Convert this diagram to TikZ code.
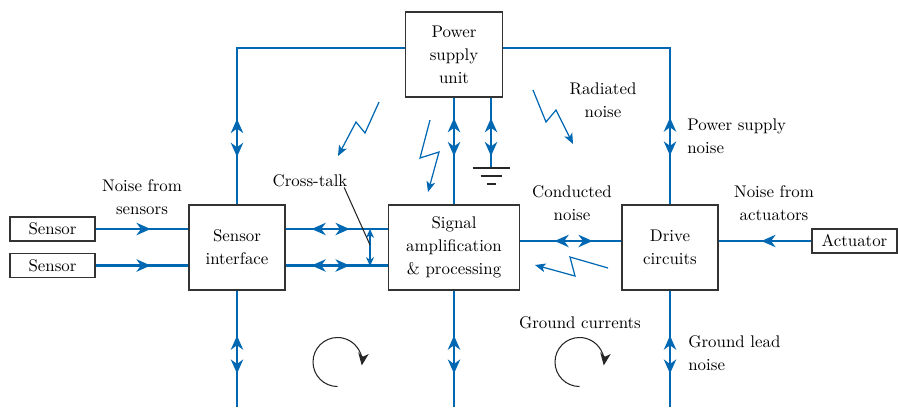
\documentclass[tikz,border=0pt]{standalone}
\usepackage{tikz}
\usetikzlibrary{arrows.meta,positioning,decorations.markings}
\definecolor{noiseblue}{RGB}{0,104,178}

\begin{document}
\begin{tikzpicture}[
  x=0.02cm, y=-0.02cm,
  font=\fontsize{9.6}{13}\selectfont,
  block/.style={draw=black!80, line width=0.7pt, fill=white, align=center, minimum width=1.92cm, minimum height=1.7cm, inner sep=2pt},
  device/.style={draw=black!80, line width=0.7pt, fill=white, minimum width=1.7cm, minimum height=0.48cm, inner sep=1pt},
  lbl/.style={align=center, inner sep=0pt},
  wire/.style={draw=noiseblue, color=noiseblue, line width=1.4pt},
  noisetip/.tip={Stealth[length=8pt, width=7pt, inset=2.5pt]},
  twoway/.style={postaction={decorate, decoration={markings,
      mark=at position #1-0.38cm with {\arrowreversed{noisetip}},
      mark=at position #1+0.38cm with {\arrow{noisetip}}}}},
  oneway/.style={postaction={decorate, decoration={markings,
      mark=at position #1 with {\arrow{noisetip}}}}},
  bolt/.style={noiseblue, line width=0.7pt, -{Stealth[length=6pt, width=5pt, inset=1.5pt]}},
  eddy/.style={black!85, line width=0.6pt, -{Stealth[length=7pt, width=6pt, inset=2pt]}},
  earth/.style={black!85, line width=1.3pt}
]
\useasboundingbox (0,0) rectangle (898,407);

% blocks
\node[block, minimum width=1.94cm] (psu) at (454,54.5) {Power\\supply\\unit};
\node[block] (sif) at (237,247.5) {Sensor\\interface};
\node[block, minimum width=2.62cm] (sap) at (454,247.5) {Signal\\amplification\\\& processing};
\node[block] (drv) at (670,247.5) {Drive\\circuits};
\node[device] (sen1) at (52.5,229) {Sensor};
\node[device] (sen2) at (52.5,265.5) {Sensor};
\node[device] (act) at (854.5,241) {Actuator};

% labels
\node[lbl] (nfs) at (142,197) {Noise from\\sensors};
\node[lbl] (xt) at (310,181) {Cross-talk};
\node[lbl] (rad) at (603,100) {Radiated\\noise};
\node[lbl, anchor=west, align=left] (psn) at (687,136) {Power supply\\noise};
\node[lbl] (cond) at (572,203) {Conducted\\noise};
\node[lbl] (nfa) at (774,203) {Noise from\\actuators};
\node[lbl] (gc) at (580,323) {Ground currents};
\node[lbl, anchor=west, align=left] (gln) at (688,353) {Ground lead\\noise};

% supply and ground paths
\draw[wire, twoway=1.33cm] (sif.north) |- ([yshift=0.13cm]psu.west);
\draw[wire, twoway=5.11cm] ([yshift=0.13cm]psu.east) -| (drv.north);
\draw[wire, twoway=0.79cm] (psu.south) -- (sap.north);
\coordinate (gnd) at (491,168);
\draw[wire, twoway=0.79cm] (psu.south -| gnd) -- (gnd);
\draw[earth] (gnd) ++(-18.5,0) -- ++(37,0)
  (gnd) ++(-10.5,8) -- ++(21,0)
  (gnd) ++(-4.5,16) -- ++(9,0);
\coordinate (floor) at (0,407);
\foreach \b in {sif, sap, drv}
  \draw[wire, twoway=1.28cm] (\b.south) -- (\b.south |- floor);

% signal paths
\draw[wire, oneway=1.1cm] (sen1) -- (sif.west |- sen1);
\draw[wire, oneway=1.1cm] (sen2) -- (sif.west |- sen2);
\draw[wire, twoway=0.9cm] (sif.east |- sen1) -- (sap.west |- sen1);
\draw[wire, twoway=0.9cm] (sif.east |- sen2) -- (sap.west |- sen2);
\draw[wire, twoway=1.07cm] (sap.east |- act) -- (drv.west |- act);
\draw[wire, oneway=1.0cm] (act) -- (drv.east |- act);

% cross-talk
\coordinate (xtop) at (370,229);
\coordinate (xbot) at (370,266);
\draw[noiseblue, line width=0.7pt, {Stealth[length=5pt, width=4.5pt, inset=1.5pt]}-{Stealth[length=5pt, width=4.5pt, inset=1.5pt]}]
  (xtop) -- (xbot) coordinate[pos=0.43] (xmid);
\draw[black!85, line width=0.6pt] ([xshift=-2pt]xt.south east) -- (xmid);

% radiated noise
\draw[bolt] (379,102) -- (365,133) -- (356,122) -- (338,156);
\draw[bolt] (430,120) -- (420,158) -- (439,152) -- (428,192);
\draw[bolt] (533,90) -- (546,122) -- (556,110) -- (573,144);
\draw[bolt] (608,268) -- (570,257) -- (575,276) -- (535,265);

% ground loops
\draw[eddy] (337.5,386.5) arc[start angle=90, end angle=368, radius=24.5];
\draw[eddy] (579.5,386.5) arc[start angle=90, end angle=368, radius=24.5];
\end{tikzpicture}
\end{document}
